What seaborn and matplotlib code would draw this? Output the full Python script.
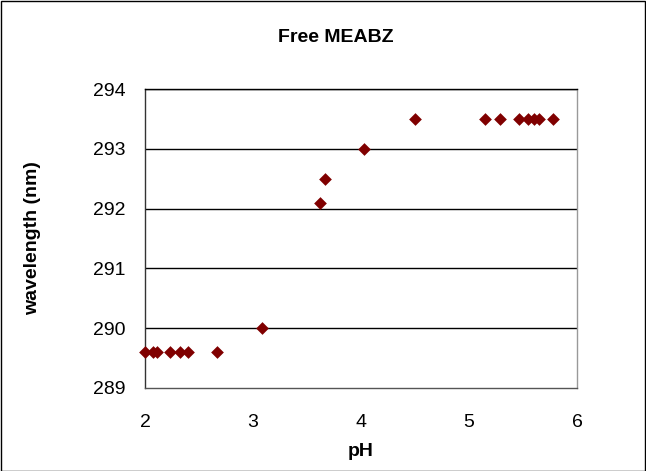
import matplotlib
matplotlib.use("Agg")
import matplotlib.pyplot as plt
import seaborn as sns
import pandas as pd

ph = [2.0, 2.07, 2.11, 2.23, 2.32, 2.40, 2.67, 3.08, 3.62, 3.67, 4.03, 4.50,
      5.15, 5.29, 5.46, 5.55, 5.60, 5.65, 5.78]
wavelength = [289.6, 289.6, 289.6, 289.6, 289.6, 289.6, 289.6, 290.0, 292.1, 292.5, 293.0, 293.5,
              293.5, 293.5, 293.5, 293.5, 293.5, 293.5, 293.5]
x_ticks = [2, 3, 4, 5, 6]
y_ticks = [289, 290, 291, 292, 293, 294]

df = pd.DataFrame({"pH": ph, "wavelength": wavelength})

sns.set_style("white")
plt.rcParams['font.family'] = ['Liberation Sans', 'DejaVu Sans']
plt.rcParams['text.color'] = 'black'
plt.rcParams['axes.labelcolor'] = 'black'
plt.rcParams['xtick.color'] = 'black'
plt.rcParams['ytick.color'] = 'black'

fig = plt.figure(figsize=(6.46, 4.71), dpi=100)
ax = fig.add_axes([145/646, 1-388/471, (577-145)/646, (388-89)/471])

sns.scatterplot(data=df, x="pH", y="wavelength", ax=ax, marker="D", s=42,
                color="#800000", edgecolor="#800000", linewidth=0, zorder=3,
                clip_on=False)

ax.set_xlim(2, 6)
ax.set_ylim(289, 294)
ax.set_xticks(x_ticks)
ax.set_yticks(y_ticks)
ax.set_xticklabels([str(t) for t in x_ticks], fontsize=14)
ax.set_yticklabels([str(t) for t in y_ticks], fontsize=14)
for y in y_ticks[1:]:
    ax.axhline(y, color="black", linewidth=1, zorder=1)
ax.tick_params(axis="y", direction="out", length=6, width=1, color="#333333", pad=8)
ax.tick_params(axis="x", direction="out", length=0, pad=19)
ax.spines["left"].set_color("#333333")
ax.spines["bottom"].set_color("#555555")
ax.spines["top"].set_color("black")
ax.spines["right"].set_color("#999999")
for s in ax.spines.values():
    s.set_linewidth(1)

ax.set_xlabel("pH", fontsize=14, fontweight="bold")
ax.xaxis.set_label_coords(0.5, -(451-388)/299)
ax.set_ylabel("wavelength (nm)", fontsize=14, fontweight="bold")
ax.yaxis.set_label_coords(-(145-33)/432, 0.5)
ax.yaxis.label.set_va("center")
ax.xaxis.label.set_va("center")
fig.text(336/646, 1-38/471, "Free MEABZ", ha="center", va="center", fontsize=14, fontweight="bold")

border = plt.Rectangle((0.001, 0.001), 0.997, 0.997, transform=fig.transFigure,
                       fill=False, edgecolor="black", linewidth=1)
fig.patches.append(border)

fig.savefig("out.png", dpi=100)
